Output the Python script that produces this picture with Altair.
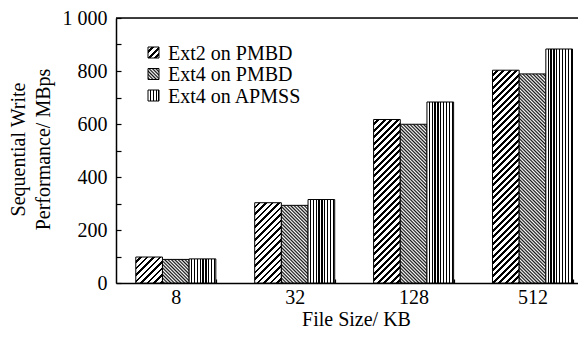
import altair as alt
import pandas as pd

# ---- data ----
sizes = ["8", "32", "128", "512"]
series = ["Ext2 on PMBD", "Ext4 on PMBD", "Ext4 on APMSS"]
ext2_pmbd = [98, 303, 617, 803]
ext4_pmbd = [89, 293, 599, 789]
ext4_apmss = [91, 315, 683, 883]

# ---- layout / style ----
PLOT_W, PLOT_H = 462, 265
YMAX = 1000
FONT = "Liberation Serif"
FS = 20
P_INNER, P_OUTER, ALIGN = 0.327, 0.1063, 0.783
STEP = PLOT_W / (len(sizes) - P_INNER + 2 * P_OUTER)
BAR_W = STEP * (1 - P_INNER) / len(series)

rows = []
for s, vals in zip(series, [ext2_pmbd, ext4_pmbd, ext4_apmss]):
    for size, v in zip(sizes, vals):
        rows.append({"size": size, "series": s, "value": v})
df = pd.DataFrame(rows)


def hard_stops(period_t, black_frac):
    st = []
    k = 0
    while k * period_t < 1:
        a = k * period_t
        m = min(1.0, a + period_t * (1 - black_frac))
        b = min(1.0, a + period_t)
        st += [{"offset": a, "color": "white"}, {"offset": m, "color": "white"},
               {"offset": m, "color": "black"}, {"offset": b, "color": "black"}]
        k += 1
    return st


def soft_stops(period_t, dark="#111111"):
    st = []
    k = 0
    while k * period_t < 1:
        a = k * period_t
        st += [{"offset": a, "color": "white"},
               {"offset": min(1.0, a + period_t * 0.5), "color": dark}]
        k += 1
    st.append({"offset": 1.0, "color": "white"})
    return st


def pattern(kind, w, h):
    if kind == "vert":
        return {"gradient": "linear", "x1": 0, "y1": 0, "x2": 1, "y2": 0,
                "stops": hard_stops(2.9 / w, 0.4)}
    L = w + h
    d = w * w + h * h
    if kind == "slash":
        return {"gradient": "linear", "x1": 0, "y1": 0,
                "x2": w * L / d, "y2": h * L / d,
                "stops": hard_stops(6.5 / L, 0.42)}
    # backslash, dense
    return {"gradient": "linear", "x1": 0, "y1": 1,
            "x2": w * L / d, "y2": 1 - h * L / d,
            "stops": soft_stops(3.4 / L)}


kinds = {series[0]: "slash", series[1]: "back", series[2]: "vert"}

axis_common = dict(labelFont=FONT, labelFontSize=FS, titleFont=FONT, titleFontSize=FS,
                   titleFontWeight="normal", labelColor="black", titleColor="black",
                   domainColor="black", domainWidth=1.5, tickColor="black", tickWidth=1.2,
                   grid=False, labelOverlap=False)

x_enc = alt.X("size:N", sort=sizes,
              scale=alt.Scale(domain=sizes, paddingInner=P_INNER, paddingOuter=P_OUTER, align=ALIGN),
              axis=alt.Axis(title="File Size/ KB", labelAngle=0, tickBand="extent",
                            tickSize=alt.ExprRef(expr="-4"), labelPadding=24,
                            labelBaseline="alphabetic",
                            titleX=240, titleY=42, titleAlign="center",
                            titleBaseline="alphabetic", titleAnchor="start", **axis_common))
xo_enc = alt.XOffset("series:N", sort=series,
                     scale=alt.Scale(domain=series, paddingInner=0, paddingOuter=0))
y_enc = alt.Y("value:Q", scale=alt.Scale(domain=[0, YMAX], nice=False),
              axis=alt.Axis(values=list(range(0, 1001, 100)),
                            labelExpr="datum.value % 200 == 0 ? (datum.value == 1000 ? '1 000' : toString(datum.value)) : ''",
                            tickSize=alt.ExprRef(expr="-5"), labelPadding=14,
                            title=["Sequential Write", "Performance/ MBps"],
                            titleAngle=270, titleX=-92, titleY=131, titleAlign="center",
                            titleBaseline="alphabetic", titleLineHeight=25, **axis_common))

layers = []
for s, vals in zip(series, [ext2_pmbd, ext4_pmbd, ext4_apmss]):
    for size, v in zip(sizes, vals):
        h = v / YMAX * PLOT_H
        layers.append(
            alt.Chart(df)
            .transform_filter(f"datum.series == '{s}' && datum.size == '{size}'")
            .mark_bar(color=pattern(kinds[s], BAR_W, h), stroke="black", strokeWidth=1)
            .encode(x=x_enc, xOffset=xo_enc, y=y_enc)
        )

top = alt.Chart(pd.DataFrame({"value": [YMAX]})).mark_rule(color="black", strokeWidth=1.5).encode(
    y=y_enc)
layers.append(top)

# legend (manual, to carry the hatch patterns)
LEG_X, LEG_Y0, LEG_DY, SW = 32, 34.5, 21.5, 11
for i, s in enumerate(series):
    yc = LEG_Y0 + i * LEG_DY
    leg_df = pd.DataFrame({"label": [s]})
    layers.append(alt.Chart(leg_df).mark_rect(color=pattern(kinds[s], SW, SW), stroke="black",
                                              strokeWidth=1).encode(
        x=alt.value(LEG_X), x2=alt.value(LEG_X + SW), y=alt.value(yc - SW / 2), y2=alt.value(yc + SW / 2)))
    layers.append(alt.Chart(leg_df).mark_text(align="left", baseline="middle", font=FONT, fontSize=FS,
                                              color="black").encode(
        text="label:N", x=alt.value(LEG_X + SW + 9), y=alt.value(yc + 1)))

chart = alt.layer(*layers).properties(
    width=PLOT_W, height=PLOT_H,
    autosize=alt.AutoSizeParams(type="none"),
    padding={"left": 108, "top": 10, "right": 0, "bottom": 48},
).configure_view(stroke=None).configure(background="white")

chart.save("out.html", embed_options={"renderer": "svg", "actions": False})
